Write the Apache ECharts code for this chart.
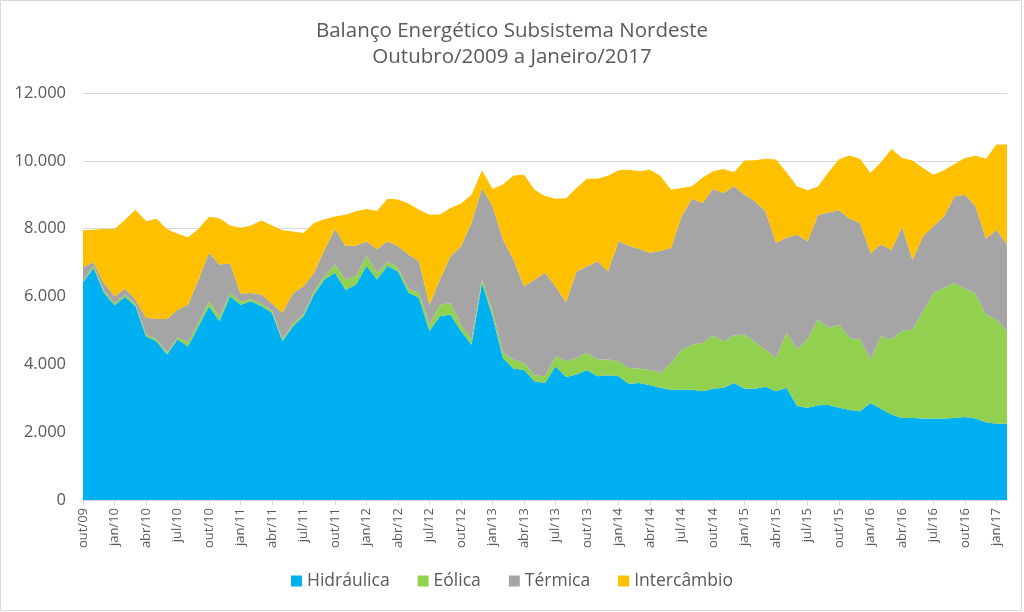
<!DOCTYPE html>
<html>
<head>
<meta charset="utf-8">
<script src="https://cdn.jsdelivr.net/npm/echarts@6/dist/echarts.min.js"></script>
<style>
html,body{margin:0;padding:0;background:#fff;}
#chart{width:1024px;height:612px;}
</style>
</head>
<body>
<div id="chart"></div>
<script>
const categories = [
 "out/09","nov/09","dez/09",
 "jan/10","fev/10","mar/10","abr/10","mai/10","jun/10","jul/10","ago/10","set/10","out/10","nov/10","dez/10",
 "jan/11","fev/11","mar/11","abr/11","mai/11","jun/11","jul/11","ago/11","set/11","out/11","nov/11","dez/11",
 "jan/12","fev/12","mar/12","abr/12","mai/12","jun/12","jul/12","ago/12","set/12","out/12","nov/12","dez/12",
 "jan/13","fev/13","mar/13","abr/13","mai/13","jun/13","jul/13","ago/13","set/13","out/13","nov/13","dez/13",
 "jan/14","fev/14","mar/14","abr/14","mai/14","jun/14","jul/14","ago/14","set/14","out/14","nov/14","dez/14",
 "jan/15","fev/15","mar/15","abr/15","mai/15","jun/15","jul/15","ago/15","set/15","out/15","nov/15","dez/15",
 "jan/16","fev/16","mar/16","abr/16","mai/16","jun/16","jul/16","ago/16","set/16","out/16","nov/16","dez/16",
 "jan/17","fev/17"
];
const hidraulica = [6420,6840,6110,5740,5990,5710,4830,4680,4290,4730,4530,5120,5710,5270,6010,
 5760,5860,5710,5520,4680,5120,5420,6060,6500,6700,6200,6350,
 6910,6500,6910,6740,6110,5960,4980,5420,5470,4980,4580,6400,
 5420,4190,3870,3840,3500,3450,3940,3630,3700,3830,3650,3680,
 3650,3430,3450,3380,3310,3250,3250,3250,3210,3280,3310,3450,
 3280,3280,3340,3210,3310,2770,2720,2790,2800,2720,2650,2620,
 2860,2690,2520,2420,2420,2400,2400,2400,2420,2450,2400,2290,
 2250,2250];
const eolica = [40,60,50,60,60,60,50,60,60,60,120,110,140,130,90,
 90,60,70,60,60,70,60,90,100,240,300,250,
 290,200,120,110,120,150,190,340,340,190,150,100,
 140,150,270,210,170,200,300,470,490,510,490,460,
 440,460,420,450,440,790,1180,1330,1420,1570,1370,1400,
 1600,1380,1090,980,1620,1670,2010,2530,2270,2450,2130,2110,
 1280,2140,2210,2580,2600,3160,3710,3850,3980,3780,3690,3180,
 3070,2730];
const termica = [400,110,240,210,180,140,490,600,990,820,1110,1270,1440,1540,870,
 240,180,280,210,780,910,820,550,780,1050,1000,900,
 430,690,600,630,1010,930,590,740,1380,2310,3440,2700,
 3100,3340,2950,2250,2830,3050,2060,1730,2550,2550,2900,2600,
 3540,3610,3530,3460,3590,3390,3930,4300,4130,4320,4370,4400,
 4120,4150,4080,3390,2800,3390,2900,3090,3410,3370,3510,3440,
 3140,2700,2650,3050,2060,2210,1970,2110,2550,2770,2570,2230,
 2650,2550];
const intercambio = [1090,960,1590,1980,2030,2650,2850,2950,2650,2240,1990,1490,1060,1370,1120,
 1940,1990,2180,2300,2430,1820,1570,1470,900,370,910,1010,
 950,1130,1250,1380,1500,1520,2650,1920,1420,1260,830,520,
 510,1620,2480,3290,2650,2260,2580,3070,2460,2580,2430,2820,
 2090,2240,2290,2450,2210,1720,840,370,740,520,710,410,
 1010,1210,1550,2460,1930,1420,1500,830,1180,1510,1870,1890,
 2360,2430,2970,2030,2930,2020,1510,1360,960,1080,1490,2360,
 2510,2950];
const seriesNames = ["Hidráulica","Eólica","Térmica","Intercâmbio"];
const seriesColors = ["#00B0F0","#92D050","#A5A5A5","#FFC000"];
const yTicks = [0,2000,4000,6000,8000,10000,12000];

const FONT = "'Open Sans', 'Liberation Sans', Arial, sans-serif";
const TXT = "#595959";
const dataSets = [hidraulica, eolica, termica, intercambio];

const chart = echarts.init(document.getElementById('chart'));
chart.setOption({
  animation: false,
  backgroundColor: '#fff',
  graphic: [{
    type: 'rect', silent: true, z: -1,
    shape: { x: 0.5, y: 0.5, width: 1021, height: 610 },
    style: { fill: 'none', stroke: '#D9D9D9', lineWidth: 1 }
  }],
  title: {
    text: 'Balanço Energético Subsistema Nordeste\nOutubro/2009 a Janeiro/2017',
    left: 'center', top: 13,
    textStyle: { fontFamily: FONT, fontSize: 20.5, fontWeight: 'normal', color: TXT, lineHeight: 26 }
  },
  legend: {
    bottom: 17, left: 'center',
    icon: 'rect', itemWidth: 11, itemHeight: 11, itemGap: 28,
    textStyle: { fontFamily: FONT, fontSize: 17.5, color: TXT },
    data: seriesNames
  },
  grid: { left: 83, right: 17, top: 93, bottom: 112, containLabel: false },
  xAxis: {
    type: 'category', data: categories, boundaryGap: false,
    axisLine: { lineStyle: { color: '#D9D9D9' } },
    axisTick: { interval: 2, length: 5, lineStyle: { color: '#D9D9D9' } },
    axisLabel: { interval: 2, rotate: 90, fontFamily: FONT, fontSize: 13, color: TXT, margin: 8 }
  },
  yAxis: {
    type: 'value', min: yTicks[0], max: yTicks[yTicks.length-1], interval: 2000,
    axisLine: { show: false }, axisTick: { show: false },
    splitLine: { lineStyle: { color: '#D9D9D9' } },
    axisLabel: {
      fontFamily: FONT, fontSize: 16.5, color: TXT, margin: 17,
      formatter: v => v.toString().replace(/\B(?=(\d{3})+(?!\d))/g, '.')
    }
  },
  series: seriesNames.map((n, k) => ({
    name: n, type: 'line', stack: 'total', data: dataSets[k],
    symbol: 'none', smooth: false,
    lineStyle: { width: 0 },
    areaStyle: { color: seriesColors[k], opacity: 1 },
    itemStyle: { color: seriesColors[k] }
  }))
});
</script>
</body>
</html>
